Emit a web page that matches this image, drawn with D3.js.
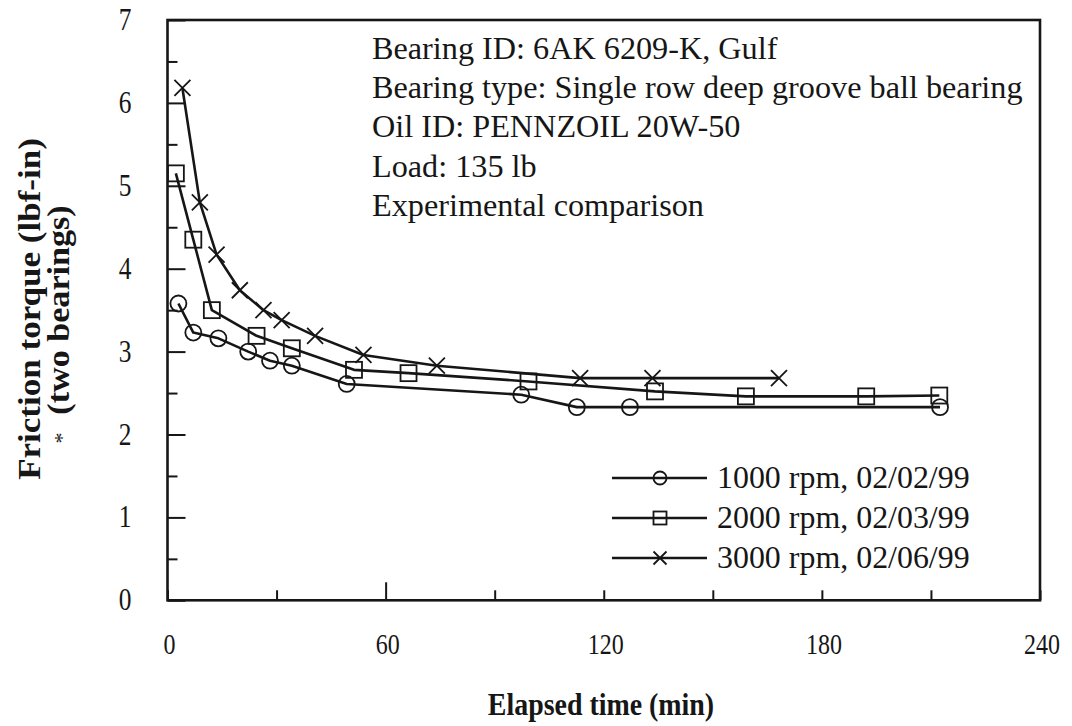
<!DOCTYPE html>
<html>
<head>
<meta charset="utf-8">
<script src="https://cdn.jsdelivr.net/npm/d3@7/dist/d3.min.js"></script>
<style>
  body { margin: 0; background: #fff; }
  svg { display: block; }
  text { font-family: "Liberation Serif", "Times New Roman", serif; fill: #161616; }
</style>
</head>
<body>
<svg id="chart" width="1072" height="726"></svg>
<script>
// Friction torque measurements (lbf-in, two bearings) against elapsed time (min)
const rpm1000Time   = [3.0, 7.1, 14.0, 22.2, 28.2, 34.2, 49.3, 97.3, 112.6, 127.2, 212.5];
const rpm1000Torque = [3.58, 3.23, 3.16, 3.00, 2.89, 2.83, 2.61, 2.48, 2.33, 2.33, 2.33];

const rpm2000Time   = [2.3, 7.1, 12.2, 24.5, 34.2, 51.3, 66.3, 99.3, 134.1, 159.1, 192.2, 212.3];
const rpm2000Torque = [5.15, 4.35, 3.50, 3.19, 3.04, 2.78, 2.74, 2.64, 2.52, 2.46, 2.46, 2.47];

const rpm3000Time   = [4.1, 8.9, 13.5, 19.9, 26.4, 31.4, 40.6, 53.9, 74.1, 113.5, 133.4, 168.2];
const rpm3000Torque = [6.18, 4.80, 4.17, 3.74, 3.50, 3.38, 3.19, 2.96, 2.83, 2.68, 2.68, 2.68];

const seriesLabels  = ["1000 rpm, 02/02/99", "2000 rpm, 02/03/99", "3000 rpm, 02/06/99"];
const seriesMarkers = ["circle", "square", "cross"];

const xTickValues = [0, 30, 60, 90, 120, 150, 180, 210, 240];
const xLabelValues = [0, 60, 120, 180, 240];
const yTickValues = [0, 0.5, 1, 1.5, 2, 2.5, 3, 3.5, 4, 4.5, 5, 5.5, 6, 6.5, 7];
const yLabelValues = [0, 1, 2, 3, 4, 5, 6, 7];

const infoLines = [
  "Bearing ID: 6AK 6209-K, Gulf",
  "Bearing type: Single row deep groove ball bearing",
  "Oil ID: PENNZOIL 20W-50",
  "Load: 135 lb",
  "Experimental comparison"
];

const xTitle = "Elapsed time (min)";
const yTitle = "Friction torque (lbf-in)";
const yTitle2 = "(two bearings)";

// ---- layout ----
const svg = d3.select("#chart");
const plot = { left: 167.5, right: 1040, top: 20, bottom: 600.3 };
const ink = "#161616";

const x = d3.scaleLinear().domain([0, 240]).range([plot.left, plot.right]);
const y = d3.scaleLinear().domain([0, 7]).range([plot.bottom, plot.top]);

// serif text stretched/condensed along its reading direction, anchored at (px, py)
function label(g, str, px, py, size, sx, opts = {}) {
  const rot = opts.rotate ? ` rotate(${opts.rotate})` : "";
  return g.append("text")
    .attr("transform", `translate(${px},${py})${rot} scale(${sx},1)`)
    .attr("font-size", size)
    .attr("text-anchor", opts.anchor || "start")
    .attr("font-weight", opts.weight || "normal")
    .attr("fill", opts.fill || ink)
    .text(str);
}

// ---- axes (inward ticks) ----
const xAxis = d3.axisBottom(x).tickValues(xTickValues).tickSize(-10).tickFormat("");
const gx = svg.append("g").attr("transform", `translate(0,${plot.bottom})`).call(xAxis);
gx.select(".domain").remove();
gx.selectAll(".tick line")
  .attr("stroke", ink).attr("stroke-width", 2)
  .attr("y2", d => d === 60 ? -18 : -10);

const yAxis = d3.axisLeft(y).tickValues(yTickValues).tickSize(-10).tickFormat("");
const gy = svg.append("g").attr("transform", `translate(${plot.left},0)`).call(yAxis);
gy.select(".domain").remove();
gy.selectAll(".tick line")
  .attr("stroke", ink).attr("stroke-width", 2)
  .attr("x2", d => Number.isInteger(d) ? 18 : 10);

// frame
svg.append("rect")
  .attr("x", plot.left).attr("y", plot.top)
  .attr("width", plot.right - plot.left).attr("height", plot.bottom - plot.top)
  .attr("fill", "none").attr("stroke", ink).attr("stroke-width", 2.6);

// tick labels
const labels = svg.append("g");
xLabelValues.forEach(v => label(labels, String(v), x(v) + 2, 654, 30, 0.8, { anchor: "middle" }));
yLabelValues.forEach(v => label(labels, String(v), 125, y(v) + 10, 31, 0.82, { anchor: "middle" }));

// axis titles
label(svg, xTitle, 601, 715, 31, 0.9, { anchor: "middle", weight: "bold" });
label(svg, yTitle, 40, 309, 31, 1.13, { anchor: "middle", weight: "bold", rotate: -90 });
label(svg, yTitle2, 69, 310, 31, 1.1, { anchor: "middle", weight: "bold", rotate: -90 });
label(svg, "*", 69, 438, 22, 1, { anchor: "middle", rotate: -90, fill: "#777" });

// info block
const info = svg.append("g");
infoLines.forEach((s, i) => label(info, s, 372, 59 + i * 39.2, 31, 1.04));

// ---- series ----
const series = [
  { t: rpm1000Time, v: rpm1000Torque },
  { t: rpm2000Time, v: rpm2000Torque },
  { t: rpm3000Time, v: rpm3000Torque }
];

const line = d3.line().x(d => x(d[0])).y(d => y(d[1]));

function drawMarker(g, kind, cx, cy, s) {
  if (kind === "circle") {
    g.append("circle").attr("cx", cx).attr("cy", cy).attr("r", s / 2)
      .attr("fill", "none").attr("stroke", ink).attr("stroke-width", 1.8);
  } else if (kind === "square") {
    g.append("rect").attr("x", cx - s / 2).attr("y", cy - s / 2)
      .attr("width", s).attr("height", s)
      .attr("fill", "none").attr("stroke", ink).attr("stroke-width", 1.8);
  } else {
    const h = s / 2;
    g.append("path")
      .attr("d", `M${cx - h},${cy - h}L${cx + h},${cy + h}M${cx - h},${cy + h}L${cx + h},${cy - h}`)
      .attr("stroke", ink).attr("stroke-width", 1.8);
  }
}

series.forEach((s, i) => {
  const pts = s.t.map((t, j) => [t, s.v[j]]);
  const g = svg.append("g");
  g.append("path").datum(pts).attr("d", line)
    .attr("fill", "none").attr("stroke", ink).attr("stroke-width", 2.6)
    .attr("stroke-linejoin", "round");
  pts.forEach(p => drawMarker(g, seriesMarkers[i], x(p[0]), y(p[1]), 16));
});

// ---- legend ----
const legend = svg.append("g");
seriesLabels.forEach((lab, i) => {
  const ly = 478 + i * 40;
  legend.append("line").attr("x1", 612).attr("x2", 707).attr("y1", ly).attr("y2", ly)
    .attr("stroke", ink).attr("stroke-width", 2.6);
  drawMarker(legend, seriesMarkers[i], 660, ly, 13);
  label(legend, lab, 717, ly + 10, 31, 1.03);
});
</script>
</body>
</html>
